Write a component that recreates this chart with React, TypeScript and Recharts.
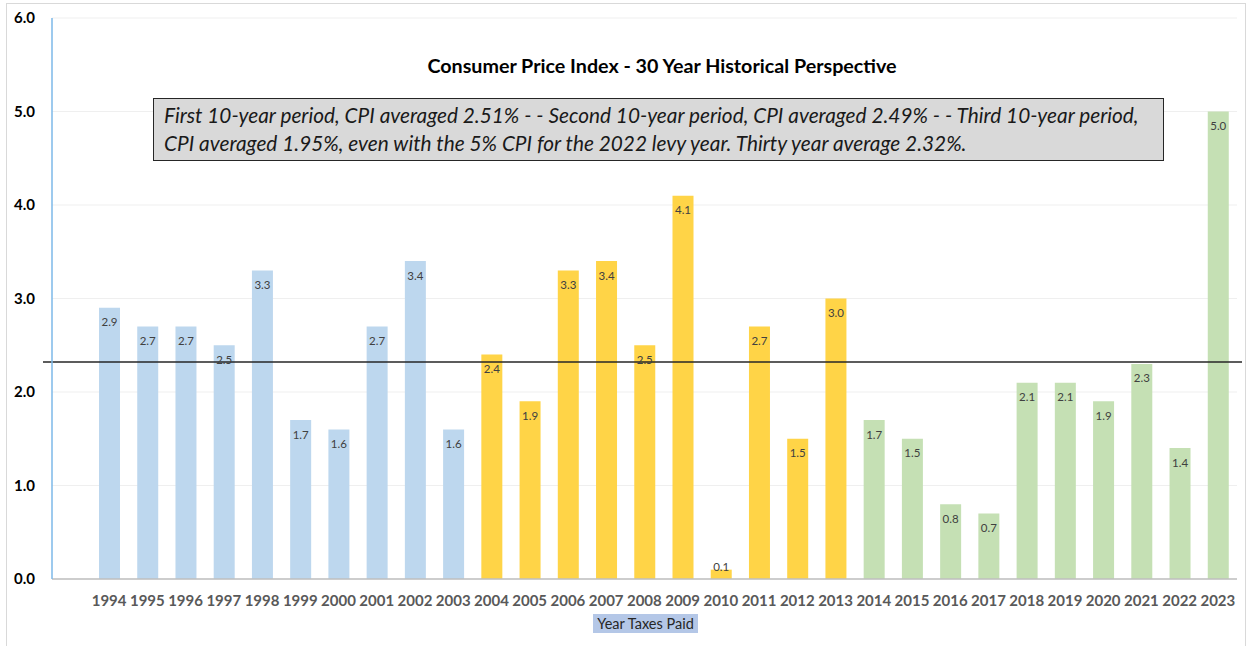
import React from "react";
import {
  BarChart,
  Bar,
  XAxis,
  YAxis,
  CartesianGrid,
  ReferenceLine,
  LabelList,
  Cell,
} from "recharts";

const years = [
  "1994", "1995", "1996", "1997", "1998", "1999", "2000", "2001", "2002", "2003",
  "2004", "2005", "2006", "2007", "2008", "2009", "2010", "2011", "2012", "2013",
  "2014", "2015", "2016", "2017", "2018", "2019", "2020", "2021", "2022", "2023",
];

const cpi = [
  2.9, 2.7, 2.7, 2.5, 3.3, 1.7, 1.6, 2.7, 3.4, 1.6,
  2.4, 1.9, 3.3, 3.4, 2.5, 4.1, 0.1, 2.7, 1.5, 3.0,
  1.7, 1.5, 0.8, 0.7, 2.1, 2.1, 1.9, 2.3, 1.4, 5.0,
];

// one colour per 10-year period
const periodColors = ["#BDD7EE", "#FFD447", "#C5E0B4"];

const yTicks = [0, 1, 2, 3, 4, 5, 6];
const thirtyYearAverage = 2.32;

const title = "Consumer Price Index - 30 Year Historical Perspective";
const noteLines = [
  "First 10-year period, CPI averaged 2.51% - - Second 10-year period, CPI averaged 2.49% - - Third 10-year period,",
  "CPI averaged 1.95%, even with the 5% CPI for the 2022 levy year. Thirty year average 2.32%.",
];
const xAxisTitle = "Year Taxes Paid";

const font = "Lato, 'Open Sans', sans-serif";

const data = years.map((year, i) => ({ year, cpi: cpi[i] }));

function BarValue(props: any) {
  const { x, y, width, height, value } = props;
  const small = height < 20;
  return (
    <text
      x={x + width / 2}
      y={small ? y - 3 : y + 14}
      textAnchor="middle"
      dominantBaseline="central"
      fontSize={11.5}
      fontFamily={font}
      fill="#404040"
    >
      {Number(value).toFixed(1)}
    </text>
  );
}

function AverageLine(props: any) {
  const { x1, x2, y1 } = props;
  return (
    <line x1={x1 - 9} x2={x2 + 5} y1={y1} y2={y1} stroke="#262626" strokeWidth={1.5} />
  );
}

export default function App() {
  return (
    <div
      style={{
        position: "absolute",
        left: 0,
        top: 0,
        width: 1250,
        height: 646,
        background: "#fff",
        fontFamily: font,
        overflow: "hidden",
      }}
    >
      <div
        style={{
          position: "absolute",
          left: 6,
          top: 3,
          width: 1238,
          height: 660,
          border: "1px solid #D9D9D9",
        }}
      />
      <BarChart
        width={1250}
        height={646}
        data={data}
        margin={{ top: 18, right: 13, left: 12, bottom: 37 }}
        style={{ position: "absolute", left: 0, top: 0 }}
      >
        <CartesianGrid vertical={false} stroke="#EFEFEF" />
        <XAxis
          dataKey="year"
          height={30}
          padding={{ left: 38, right: 0 }}
          tickLine={false}
          axisLine={{ stroke: "#BFBFBF", strokeWidth: 1.5 }}
          tickMargin={10}
          interval={0}
          tick={{ fontSize: 15, fontWeight: 700, fill: "#595959", fontFamily: font }}
        />
        <YAxis
          width={40}
          domain={[0, 6]}
          ticks={yTicks}
          tickFormatter={(v: number) => v.toFixed(1)}
          tickLine={false}
          axisLine={{ stroke: "#7DB8E8", strokeWidth: 1.5 }}
          tickMargin={11}
          tick={{ fontSize: 15, fontWeight: 700, fill: "#000", fontFamily: font }}
        />
        <Bar dataKey="cpi" barSize={21} isAnimationActive={false}>
          {data.map((d, i) => (
            <Cell key={d.year} fill={periodColors[Math.floor(i / 10)]} />
          ))}
          <LabelList dataKey="cpi" content={BarValue} />
        </Bar>
        <ReferenceLine y={thirtyYearAverage} shape={AverageLine} ifOverflow="visible" />
      </BarChart>
      <div
        style={{
          position: "absolute",
          left: 0,
          width: 1324,
          top: 54,
          textAlign: "center",
          fontSize: 19.7,
          fontWeight: 700,
          color: "#000",
        }}
      >
        {title}
      </div>
      <div
        style={{
          position: "absolute",
          left: 153,
          top: 98,
          width: 1011,
          height: 63,
          boxSizing: "border-box",
          background: "#D9D9D9",
          border: "1px solid #262626",
          padding: "2px 0 0 10px",
          fontStyle: "italic",
          fontSize: 20.8,
          lineHeight: "28px",
          color: "#1A1A1A",
          whiteSpace: "nowrap",
        }}
      >
        {noteLines.map((l) => (
          <div key={l}>{l}</div>
        ))}
      </div>
      <div
        style={{
          position: "absolute",
          left: 593,
          top: 614,
          width: 105,
          height: 19,
          background: "#B4C7E7",
          fontSize: 14.5,
          lineHeight: "19px",
          textAlign: "center",
          color: "#262626",
        }}
      >
        {xAxisTitle}
      </div>
    </div>
  );
}
